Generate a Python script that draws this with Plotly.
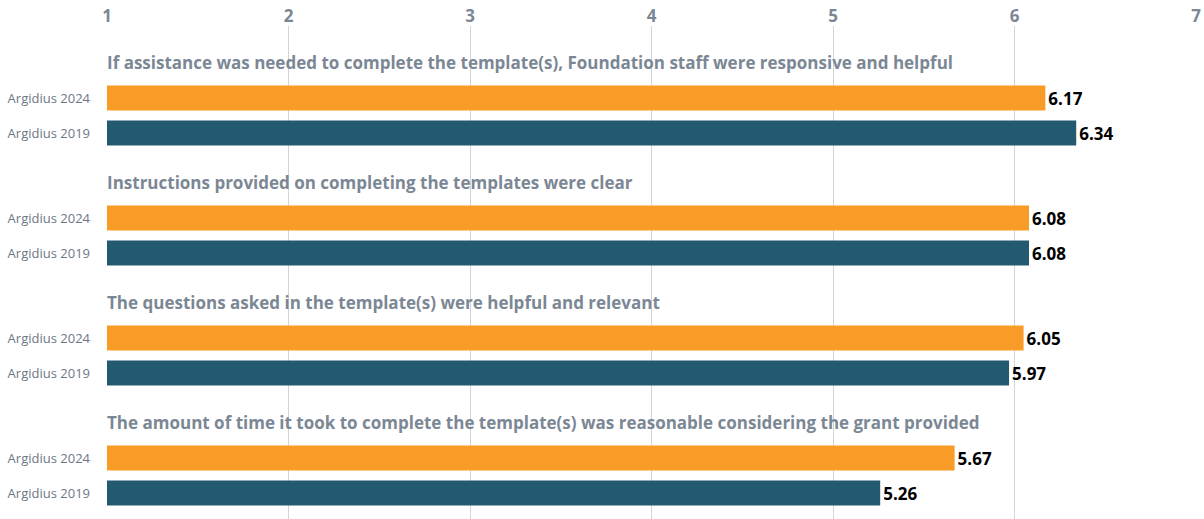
import plotly.graph_objects as go

questions = [
    "If assistance was needed to complete the template(s), Foundation staff were responsive and helpful",
    "Instructions provided on completing the templates were clear",
    "The questions asked in the template(s) were helpful and relevant",
    "The amount of time it took to complete the template(s) was reasonable considering the grant provided",
]
vals_2024 = [6.17, 6.08, 6.05, 5.67]
vals_2019 = [6.34, 6.08, 5.97, 5.26]
series_names = ["Argidius 2024", "Argidius 2019"]
x_ticks = [1, 2, 3, 4, 5, 6, 7]

ORANGE = "#f89c27"
TEAL = "#245a6f"
GREY = "#7b8794"

# y axis in pixel-like units from the top (reversed)
step = 120
title_y = [40 + step * i for i in range(len(questions))]
y24 = [t + 36 for t in title_y]
y19 = [t + 71 for t in title_y]

fig = go.Figure()
for name, vals, ys, col in [(series_names[0], vals_2024, y24, ORANGE),
                            (series_names[1], vals_2019, y19, TEAL)]:
    fig.add_trace(go.Bar(
        x=vals, y=ys, orientation="h", width=25,
        marker=dict(color=col, line=dict(width=0)),
        text=[f"{v:.2f}" for v in vals], textposition="outside",
        textfont=dict(family="Open Sans", size=17, color="#000000", weight="bold"),
        cliponaxis=False, name=name, hoverinfo="skip",
    ))

for q, ty in zip(questions, title_y):
    fig.add_annotation(
        x=1, y=ty, xref="x", yref="y", text=q, showarrow=False,
        xanchor="left", yanchor="middle", xshift=-2,
        font=dict(family="Open Sans", size=17, color=GREY, weight="bold"),
    )

fig.update_layout(
    width=1204, height=519,
    margin=dict(l=107, r=8, t=26, b=0),
    paper_bgcolor="white", plot_bgcolor="white",
    showlegend=False, barmode="overlay",
    xaxis=dict(
        side="top", range=[1, 7], tickvals=x_ticks, automargin=False,
        showgrid=True, gridcolor="#cfd5dc", gridwidth=1, zeroline=False,
        tickfont=dict(family="Open Sans", size=17, color=GREY, weight="bold"),
        showline=False,
    ),
    yaxis=dict(
        range=[497, 4], tickvals=y24 + y19, automargin=False,
        ticktext=[series_names[0]] * len(y24) + [series_names[1]] * len(y19),
        tickfont=dict(family="Open Sans", size=13, color="#6b7785"),
        showgrid=False, zeroline=False, ticklabelstandoff=16,
    ),
)

# drop the default page margin so the figure sits at the window corner
fig.write_html("out.html", config={"displayModeBar": False},
               post_script="document.body.style.margin='0';document.body.style.overflow='hidden';")
